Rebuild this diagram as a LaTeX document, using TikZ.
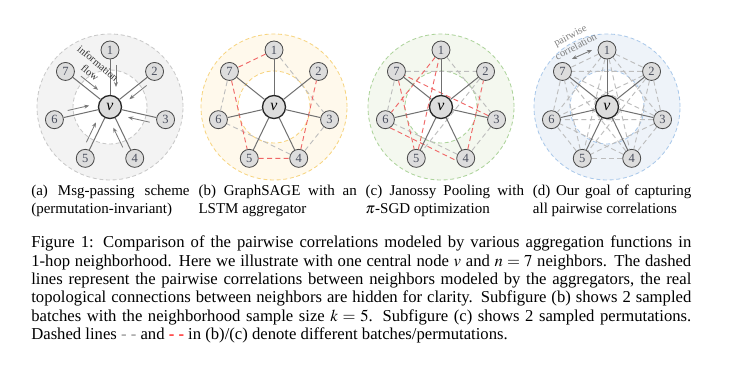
\documentclass[tikz,border=0pt]{standalone}
\usepackage{mathptmx}
\usepackage{fontspec}
\setmainfont{Liberation Serif}
\usepackage{xcolor}
\usetikzlibrary{arrows.meta, calc}
\definecolor{gFill}{HTML}{F3F3F3}
\definecolor{gRing}{HTML}{C8C8C8}
\definecolor{yFill}{HTML}{FFF9EC}
\definecolor{yRing}{HTML}{F7D47F}
\definecolor{cFill}{HTML}{F4F8EF}
\definecolor{cRing}{HTML}{ACD39A}
\definecolor{dFill}{HTML}{EEF3F9}
\definecolor{dRing}{HTML}{A9C8EA}
\definecolor{nodefill}{HTML}{DDDDDD}
\definecolor{nodeline}{HTML}{4A4A4A}
\definecolor{numtext}{HTML}{4A4F5E}
\definecolor{spokegray}{HTML}{707070}
\definecolor{corrgray}{HTML}{BDBDBD}
\definecolor{redcorr}{HTML}{F06666}
\definecolor{arrowgray}{HTML}{7A7A7A}

\begin{document}
\begin{tikzpicture}[x=0.6pt, y=0.6pt,
    every node/.style={font=\fontsize{10}{11}\selectfont},
    nbr/.style={circle, draw=nodeline, fill=nodefill, line width=0.5pt, minimum size=10.8pt, inner sep=0pt, font=\fontsize{7.5}{8}\selectfont, text=numtext},
    hub/.style={circle, draw=black!85, fill=nodefill, line width=0.8pt, minimum size=13.8pt, inner sep=0pt, font=\fontsize{9.5}{10}\selectfont\itshape},
    outerring/.style n args={2}{draw=#1, fill=#2, line width=0.5pt, dash pattern=on 2.4pt off 1.6pt},
    innerring/.style={draw=#1, fill=white, line width=0.5pt, dash pattern=on 2.4pt off 1.6pt},
    spoke/.style={draw=spokegray, line width=0.6pt},
    corr/.style={draw=corrgray, line width=0.55pt, dash pattern=on 3pt off 2pt},
    corrR/.style={draw=redcorr, line width=0.55pt, dash pattern=on 3pt off 2pt},
    flow/.style={draw=arrowgray, line width=0.5pt, -{Stealth[length=3pt, width=2.4pt]}},
    smalltext/.style={font=\fontsize{6.3}{7.4}\selectfont, align=center, inner sep=0pt},
    subcap/.style={anchor=north west, text width=95pt, align=justify, inner sep=0pt, font=\fontsize{9}{11}\selectfont},
]
\useasboundingbox (0,0) rectangle (739,379);

% (a) message passing
\begin{scope}[shift={(110,272)}]
\draw[outerring={gRing}{gFill}] (0,0) circle (73);
\draw[innerring=gRing] (0,0) circle (37);
\node[hub] (av) at (0,0) {v};
\foreach \k [evaluate=\k as \ang using {90-(\k-1)*360/7}] in {1,...,7} {
    \node[nbr] (a\k) at (\ang:57) {\k};
    \draw[spoke] (av) -- (a\k);
    \coordinate (af\k) at ([shift={(\ang-90:6)}]\ang:42);
    \coordinate (at\k) at ([shift={(\ang-90:6)}]\ang:20);
    \draw[flow] (af\k) -- (at\k);
}
\node[smalltext, text=black!80, rotate=-40] (flowlbl) at (-16,39) {information\\flow};
\end{scope}

% (b) GraphSAGE, two batches
\begin{scope}[shift={(274,272)}]
\draw[outerring={yRing}{yFill}] (0,0) circle (73);
\draw[innerring=yRing] (0,0) circle (36);
\node[hub] (bv) at (0,0) {v};
\foreach \k [evaluate=\k as \ang using {90-(\k-1)*360/7}] in {1,...,7}
    \node[nbr] (b\k) at (\ang:57) {\k};
\draw[corr] (b1) -- (b3) -- (b4);
\draw[corr] (b4) -- (b6) -- (b7);
\draw[corrR] (b1) -- (b7) -- (b5) -- (b4) -- (b2);
\foreach \k in {1,...,7} \draw[spoke] (bv) -- (b\k);
\end{scope}

% (c) Janossy pooling, two permutations
\begin{scope}[shift={(441,272)}]
\draw[outerring={cRing}{cFill}] (0,0) circle (73);
\draw[innerring=cRing] (0,0) circle (36);
\node[hub] (cv) at (0,0) {v};
\foreach \k [evaluate=\k as \ang using {90-(\k-1)*360/7}] in {1,...,7}
    \node[nbr] (c\k) at (\ang:57) {\k};
\draw[corr] (c1) -- (c3) -- (c4) -- (c6) -- (c7) -- (c2) -- (c5);
\draw[corrR] (c3) -- (c7) -- (c5) -- (c1) -- (c6);
\draw[corrR] (c6.300) -- (c4.195);
\draw[corrR] (c4) -- (c2);
\foreach \k in {1,...,7} \draw[spoke] (cv) -- (c\k);
\end{scope}

% (d) all pairwise correlations
\begin{scope}[shift={(607,272)}]
\draw[outerring={dRing}{dFill}] (0,0) circle (73);
\draw[innerring=dRing] (0,0) circle (37);
\node[hub] (dv) at (0,0) {v};
\foreach \k [evaluate=\k as \ang using {90-(\k-1)*360/7}] in {1,...,7}
    \node[nbr] (d\k) at (\ang:57) {\k};
\foreach \i in {1,...,6} {
    \pgfmathtruncatemacro{\nxt}{\i+1}
    \foreach \j in {\nxt,...,7} \draw[corr] (d\i) -- (d\j);
}
\foreach \k in {1,...,7} \draw[spoke] (dv) -- (d\k);
\node[smalltext, text=black!50, rotate=28] (corrlbl) at (-34,66) {pairwise\\correlation};
\coordinate (cl) at (-35,48);
\coordinate (cr) at (-15,57);
\draw[arrowgray, line width=0.5pt, {Stealth[length=3pt, width=2.4pt]}-{Stealth[length=3pt, width=2.4pt]}] (cl) -- (cr);
\end{scope}

% sub-captions
\node[subcap] (capa) at (31,196.8) {\strut(a) Msg-passing scheme (permutation-invariant)};
\node[subcap] (capb) at (198.2,196.8) {\strut(b) GraphSAGE with an LSTM aggregator};
\node[subcap] (capc) at (365.4,196.8) {\strut(c) Janossy Pooling with \(\pi\)-SGD optimization};
\node[subcap] (capd) at (532.6,196.8) {\strut(d) Our goal of capturing all pairwise correlations};

% main caption
\node[anchor=north west, text width=396pt, align=justify, inner sep=0pt] (caption) at (31,144.3) {\strut Figure 1: Comparison of the pairwise correlations modeled by various aggregation functions in \mbox{1-hop} neighborhood. Here we illustrate with one central node \(v\) and \(n=7\) neighbors. The dashed lines represent the pairwise correlations between neighbors modeled by the aggregators, the real topological connections between neighbors are hidden for clarity. Subfigure (b) shows 2 sampled batches with the neighborhood sample size \(k=5\). Subfigure (c) shows 2 sampled permutations. Dashed lines \textcolor{black!45}{- -} and \textcolor{red}{- -} in (b)/(c) denote different batches/permutations.};
\end{tikzpicture}
\end{document}
